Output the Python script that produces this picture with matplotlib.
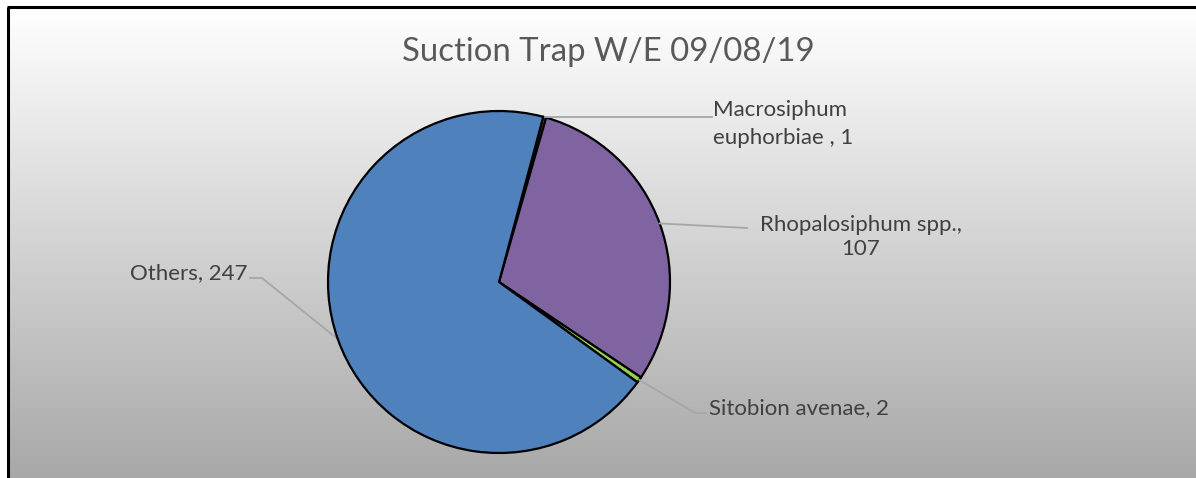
"""Suction trap pie chart, week ending 09/08/19."""
import matplotlib
matplotlib.use("Agg")
import matplotlib.pyplot as plt
import numpy as np

# ---------- data ----------
species = ["Macrosiphum\neuphorbiae , 1", "Rhopalosiphum spp.,\n107",
           "Sitobion avenae, 2", "Others, 247"]
counts = [1, 107, 2, 247]
colors = ["#c0504d", "#8064a2", "#92d050", "#4f81bd"]

TITLE = "Suction Trap W/E 09/08/19"
W, H = 1196, 478
CX, CY, R = 499, H - 282, 171
LABEL_SIZE = 16

plt.rcParams["font.family"] = ["Lato", "DejaVu Sans"]

fig = plt.figure(figsize=(W / 100, H / 100), dpi=100)
fig.patch.set_facecolor("white")
ax = fig.add_axes([0, 0, 1, 1])

# gradient background inside the chart frame
grad = np.linspace(1.0, 0.0, 256).reshape(-1, 1)
ax.imshow(grad, cmap=matplotlib.colors.LinearSegmentedColormap.from_list(
    "bg", ["#a8a8a8", "#ffffff"]), extent=[8, W, 0, H - 7],
    aspect="auto", zorder=0, origin="upper")

wedges, _ = ax.pie(counts, colors=colors, startangle=75, counterclock=False,
                   center=(CX, CY), radius=R, frame=True,
                   wedgeprops=dict(edgecolor="black", linewidth=1.6))
for w in wedges:
    w.set_zorder(2)

ax.set_xlim(0, W)
ax.set_ylim(0, H)
ax.set_aspect("auto")
ax.axis("off")

# frame lines (top and left)
ax.plot([8, 8], [0, H - 7], color="black", lw=2.2, zorder=5, solid_capstyle="butt")
ax.plot([7, W], [H - 7, H - 7], color="black", lw=2.2, zorder=5, solid_capstyle="butt")

ax.text(608, H - 52, TITLE, ha="center", va="center", fontsize=23.7, color="#595959")

# leader lines, anchored on the wedge edges
def edge_point(i):
    w = wedges[i]
    mid = np.deg2rad((w.theta1 + w.theta2) / 2)
    return CX + R * np.cos(mid), CY + R * np.sin(mid)

lead = "#a6a6a6"
px, py = edge_point(0)
ax.plot([px, 712], [py, py], color=lead, lw=1.3, zorder=3)
ax.text(713, H - 124, species[0], ha="left", va="center", fontsize=LABEL_SIZE,
        color="#404040", linespacing=1.45)

px, py = edge_point(1)
ax.plot([px, 747], [py, H - 228], color=lead, lw=1.3, zorder=3)
ax.text(861, H - 237, species[1], ha="center", va="center", fontsize=LABEL_SIZE,
        color="#404040", linespacing=1.3, multialignment="center")

px, py = edge_point(2)
ax.plot([px, 695, 706], [py, H - 413, H - 413], color=lead, lw=1.3, zorder=3)
ax.text(709, H - 408, species[2], ha="left", va="center", fontsize=LABEL_SIZE,
        color="#404040")

px, py = edge_point(3)
ax.plot([250, 262, px], [H - 278, H - 278, py], color=lead, lw=1.3, zorder=1.5)
ax.text(247, H - 273, species[3], ha="right", va="center", fontsize=LABEL_SIZE,
        color="#404040")

fig.savefig("out.png", dpi=100)
